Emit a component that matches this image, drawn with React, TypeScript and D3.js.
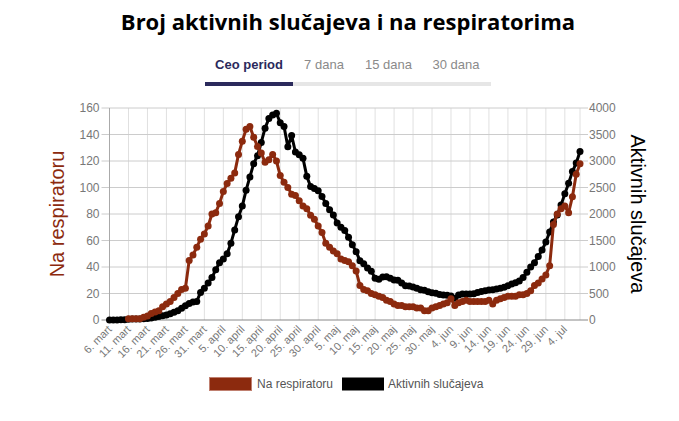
import * as d3 from 'd3';

// daily series, first entry = 6 March 2020
const startDate = new Date(2020, 2, 6);

const aktivnih = [
  1, 1, 1, 3, 5, 12, 18, 18, 20, 25,
  30, 40, 50, 65, 80, 95, 120, 145, 175, 220,
  270, 310, 340, 350, 520, 600, 700, 800, 950, 1080,
  1150, 1250, 1450, 1700, 1950, 2150, 2450, 2700, 2950, 3100,
  3350, 3620, 3800, 3870, 3900, 3720, 3650, 3270, 3480, 3170,
  3120, 3050, 2710, 2520, 2480, 2440, 2330, 2200, 2080, 1980,
  1830, 1750, 1690, 1560, 1420, 1290, 1120, 1060, 980, 920,
  790, 770, 810, 815, 790, 755, 750, 700, 645, 640,
  625, 600, 570, 563, 535, 515, 505, 480, 470, 468,
  455, 410, 470, 490, 490, 490, 495, 520, 540, 553,
  565, 572, 585, 598, 620, 645, 680, 704, 735, 800,
  900, 1000, 1080, 1200, 1320, 1470, 1660, 1850, 1980, 2170,
  2380, 2580, 2800, 2960, 3180,
];

const naRespiratoru: (number | null)[] = [
  null, null, null, null, null, 1, 1, 1, 1, 2,
  3, 5, 6, 7, 10, 12, 14, 17, 20, 23,
  24, 45, 49, 55, 61, 65, 71, 80, 81, 88,
  97, 103, 107, 111, 125, 135, 144, 146, 138, 131,
  126, 119, 121, 125, 120, 109, 104, 100, 95, 94,
  90, 86, 84, 79, 76, 71, 66, 58, 55, 52,
  50, 46, 45, 44, 41, 37, 26, 23, 22, 20,
  19, 18, 17, 15, 14, 12, 11, 11, 10, 10,
  10, 9, 9, 7, 7, 9, 10, 11, 12, 13,
  16, 11, 13, 14, 15, 14, 14, 14, 14, 14,
  15, 12, 15, 16, 17, 18, 18, 18, 19, 19,
  20, 22, 26, 28, 31, 34, 41, 72, 80, 84,
  86, 81, 93, 110, 118,
];

const leftTicks = [0, 20, 40, 60, 80, 100, 120, 140, 160];
const rightTicks = [0, 500, 1000, 1500, 2000, 2500, 3000, 3500, 4000];
const monthNames = ['jan', 'feb', 'mart', 'april', 'maj', 'jun', 'jul', 'avg', 'sep', 'okt', 'nov', 'dec'];
const tabs = ['Ceo period', '7 dana', '15 dana', '30 dana'];

const RED = '#8c2a0e';
const W = 679;
const H = 421;
const plot = { left: 109.5, right: 580, top: 108, bottom: 320 };

const dates = aktivnih.map((_, i) => d3.timeDay.offset(startDate, i));
const tickDates = d3.range(0, dates.length - 1, 5).map(i => dates[i]);

const x = d3.scaleTime()
  .domain([dates[0], dates[dates.length - 1]])
  .range([plot.left, plot.right]);
const yLeft = d3.scaleLinear().domain([0, 160]).range([plot.bottom, plot.top]);
const yRight = d3.scaleLinear().domain([0, 4000]).range([plot.bottom, plot.top]);

type Pt = { date: Date; v: number | null };
const redPts: Pt[] = dates.map((date, i) => ({ date, v: naRespiratoru[i] }));
const blackPts: Pt[] = dates.map((date, i) => ({ date, v: aktivnih[i] }));

const redLine = d3.line<Pt>()
  .defined(d => d.v != null)
  .x(d => x(d.date))
  .y(d => yLeft(d.v as number));
const blackLine = d3.line<Pt>()
  .x(d => x(d.date))
  .y(d => yRight(d.v as number));

const fmtDate = (d: Date) => `${d.getDate()}. ${monthNames[d.getMonth()]}`;

export default function App() {
  const sans = '"Liberation Sans", Arial, sans-serif';
  return (
    <svg
      width={W}
      height={H}
      style={{ position: 'absolute', left: 0, top: 0, background: '#fff' }}
      fontFamily={sans}
    >
      <text x={348} y={30} textAnchor="middle" fontFamily='"Open Sans", sans-serif' fontWeight={700} fontSize={22} fill="#000">
        Broj aktivnih slučajeva i na respiratorima
      </text>

      {/* period tabs */}
      {tabs.map((t, i) => {
        const cx = [249, 324, 388.5, 456][i];
        return (
          <text key={t} x={cx} y={69} textAnchor="middle" fontSize={13}
            fontWeight={i === 0 ? 700 : 400} fill={i === 0 ? '#2b2a5c' : '#8a8a8a'}>
            {t}
          </text>
        );
      })}
      <rect x={205} y={82} width={286} height={4} fill="#e6e6e6" />
      <rect x={205} y={82} width={88} height={4} fill="#2b2a5c" />

      {/* grid */}
      {tickDates.map((d, i) => (
        <line key={'v' + i} x1={x(d)} x2={x(d)} y1={plot.top} y2={plot.bottom} stroke="#e0e0e0" />
      ))}
      <line x1={plot.right} x2={plot.right} y1={plot.top} y2={plot.bottom} stroke="#e0e0e0" />
      {leftTicks.map(t => (
        <line key={'h' + t} x1={plot.left - 8} x2={plot.right + 8} y1={yLeft(t)} y2={yLeft(t)}
          stroke={t === 0 ? '#888' : '#cccccc'} />
      ))}
      <line x1={plot.left} x2={plot.left} y1={plot.top} y2={plot.bottom} stroke="#aaa" />

      {/* left axis */}
      {leftTicks.map(t => (
        <text key={'l' + t} x={plot.left - 10} y={yLeft(t)} dy="0.35em" textAnchor="end" fontSize={12} fill="#777">
          {t}
        </text>
      ))}
      {/* right axis */}
      {rightTicks.map(t => (
        <text key={'r' + t} x={plot.right + 9} y={yRight(t)} dy="0.35em" textAnchor="start" fontSize={12} fill="#777">
          {t}
        </text>
      ))}

      {/* x axis labels */}
      {tickDates.map((d, i) => (
        <text key={'x' + i} transform={`translate(${x(d) + 3},${plot.bottom + 10}) rotate(-45)`}
          textAnchor="end" fontSize={11} fill="#777">
          {fmtDate(d)}
        </text>
      ))}

      {/* axis titles */}
      <text transform={`translate(64,${(plot.top + plot.bottom) / 2}) rotate(-90)`} textAnchor="middle"
        fontSize={20} fill={RED}>
        Na respiratoru
      </text>
      <text transform={`translate(631,${(plot.top + plot.bottom) / 2}) rotate(90)`} textAnchor="middle"
        fontSize={20} fill="#000">
        Aktivnih slučajeva
      </text>

      {/* series: active cases underneath, ventilator line on top */}
      <path d={blackLine(blackPts) || ''} fill="none" stroke="#000" strokeWidth={3} strokeLinejoin="round" />
      {blackPts.map((d, i) => (
        <circle key={'bp' + i} cx={x(d.date)} cy={yRight(d.v as number)} r={3.5} fill="#000" />
      ))}
      <path d={redLine(redPts) || ''} fill="none" stroke={RED} strokeWidth={3} strokeLinejoin="round" />
      {redPts.filter(d => d.v != null).map((d, i) => (
        <circle key={'rp' + i} cx={x(d.date)} cy={yLeft(d.v as number)} r={3.5} fill={RED} />
      ))}

      {/* legend */}
      <rect x={209.5} y={377.5} width={42} height={13} fill={RED} stroke="#c08070" strokeWidth={1} />
      <text x={257} y={388} fontSize={12} fill="#555">Na respiratoru</text>
      <rect x={342} y={377.5} width={42} height={13} fill="#000" />
      <text x={388} y={388} fontSize={12} fill="#555">Aktivnih slučajeva</text>
    </svg>
  );
}
